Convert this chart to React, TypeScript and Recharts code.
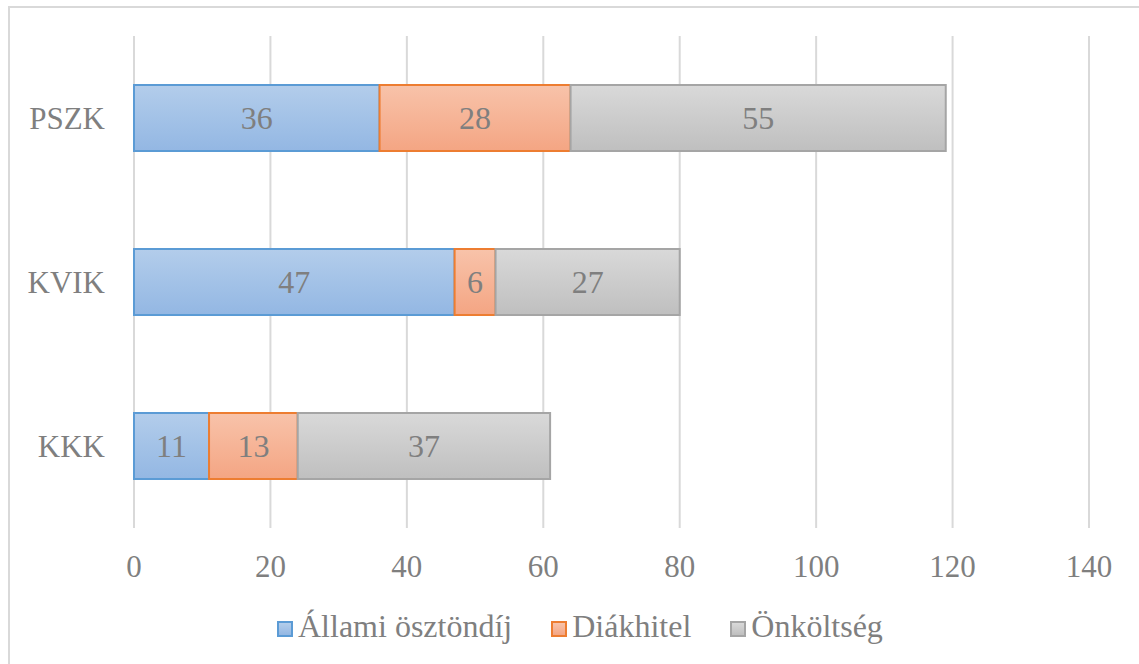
import React from 'react';
import { BarChart, Bar, XAxis, YAxis, CartesianGrid, LabelList, Legend } from 'recharts';

const categories = ['PSZK', 'KVIK', 'KKK'];
const allami = [36, 47, 11];
const diakhitel = [28, 6, 13];
const onkoltseg = [55, 27, 37];
const xTicks = [0, 20, 40, 60, 80, 100, 120, 140];

const seriesNames = ['Állami ösztöndíj', 'Diákhitel', 'Önköltség'];
const seriesKeys = ['allami', 'diakhitel', 'onkoltseg'];
const strokes = ['#5b9bd5', '#ed7d31', '#a5a5a5'];
const gradTop = ['#b3cdeb', '#f8c3aa', '#d9d9d9'];
const gradBottom = ['#93b7e3', '#f4a583', '#bfbfbf'];

const data = categories.map((c, i) => ({
  name: c,
  allami: allami[i],
  diakhitel: diakhitel[i],
  onkoltseg: onkoltseg[i],
}));

const FONT = 'Liberation Serif';
const TEXT = '#7f7f7f';

const LegendContent = () => (
  <div style={{ display: 'flex', justifyContent: 'flex-start', alignItems: 'center', height: 36, paddingLeft: 267, fontFamily: FONT, fontSize: 32, color: TEXT, whiteSpace: 'nowrap' }}>
    {seriesNames.map((n, i) => (
      <div key={n} style={{ display: 'flex', alignItems: 'center', marginRight: i < 2 ? 39 : 0 }}>
        <span style={{
          display: 'inline-block', width: 12, height: 12,
          border: `2px solid ${strokes[i]}`,
          background: `linear-gradient(${gradTop[i]}, ${gradBottom[i]})`,
          marginRight: 5, marginTop: 6,
        }} />
        <span style={{ lineHeight: '36px', fontFamily: FONT }}>{n}</span>
      </div>
    ))}
  </div>
);

export default function App() {
  return (
    <div style={{ position: 'fixed', left: 8, top: 6, width: 1160, height: 690, border: '2px solid #d9d9d9', background: '#fff', fontFamily: FONT }}>
      <BarChart
        width={1129}
        height={656}
        data={data}
        layout="vertical"
        margin={{ top: 28, right: 50, left: 0, bottom: 0 }}
        barCategoryGap="30%"
        style={{ fontFamily: FONT }}
      >
        <defs>
          {seriesKeys.map((k, i) => (
            <linearGradient key={k} id={`grad-${k}`} x1="0" y1="0" x2="0" y2="1">
              <stop offset="0%" stopColor={gradTop[i]} />
              <stop offset="100%" stopColor={gradBottom[i]} />
            </linearGradient>
          ))}
        </defs>
        <CartesianGrid horizontal={false} stroke="#d9d9d9" strokeWidth={2} />
        <XAxis
          type="number"
          domain={[0, 140]}
          ticks={xTicks}
          axisLine={false}
          tickLine={false}
          tickSize={0}
          tickMargin={27}
          height={100}
          tick={{ fill: TEXT, fontSize: 31, fontFamily: FONT }}
          interval={0}
        />
        <YAxis
          type="category"
          dataKey="name"
          width={124}
          axisLine={false}
          tickLine={false}
          tickSize={0}
          tickMargin={29}
          tick={{ fill: TEXT, fontSize: 31, fontFamily: FONT }}
        />
        <Legend verticalAlign="bottom" content={<LegendContent />} wrapperStyle={{ bottom: 20, height: 36, left: 0, width: 1129 }} />
        {seriesKeys.map((k, i) => (
          <Bar
            key={k}
            dataKey={k}
            name={seriesNames[i]}
            stackId="a"
            fill={`url(#grad-${k})`}
            stroke={strokes[i]}
            strokeWidth={2}
            barSize={66}
            isAnimationActive={false}
          >
            <LabelList dataKey={k} position="center" fill={TEXT} fontSize={32} fontFamily={FONT} />
          </Bar>
        ))}
      </BarChart>
    </div>
  );
}
